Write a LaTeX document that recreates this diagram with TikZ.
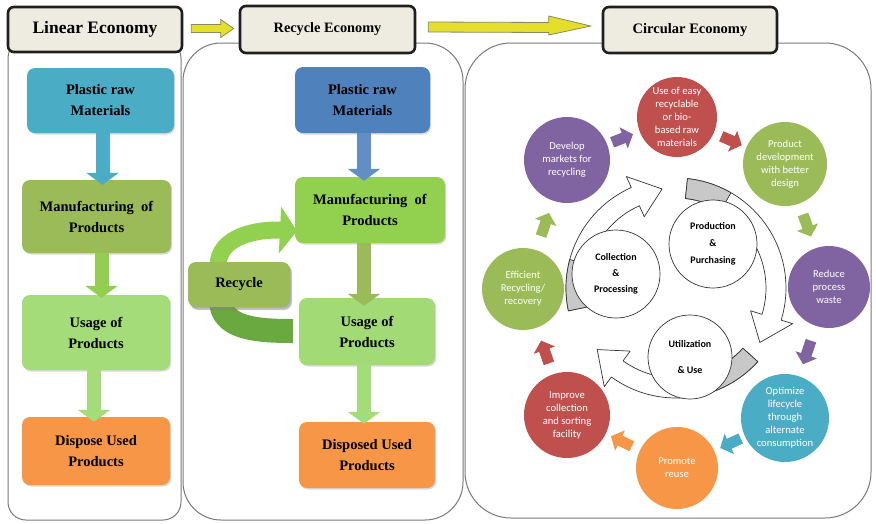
\documentclass[tikz,border=0pt]{standalone}
\usepackage{fontspec}
\setmainfont{Liberation Serif}
\newfontfamily\cfont{Carlito}
\usetikzlibrary{arrows.meta,calc,shadows}
\definecolor{titlebg}{HTML}{EEECE1}
\definecolor{yel}{HTML}{E5DE2A}
\definecolor{yeldraw}{HTML}{8A8A60}
\definecolor{panelc}{HTML}{7A7A7A}
\definecolor{teal1}{HTML}{4BACC6}
\definecolor{olive1}{HTML}{9BBB59}
\definecolor{lgreen}{HTML}{A3DC78}
\definecolor{orange1}{HTML}{F79646}
\definecolor{blue2}{HTML}{4F81BD}
\definecolor{green2}{HTML}{92D050}
\definecolor{dgreen}{HTML}{6AA840}
\definecolor{red1}{HTML}{C0504D}
\definecolor{purple1}{HTML}{8064A2}
\definecolor{cycgrey}{HTML}{C8C8C8}
\newcommand\cycarrow[3]{%
  \begin{scope}[shift={(676,288)}]
  \filldraw[cyc] plot[domain=#1:#2-16, samples=30] (\x:110) -- (#2-16:122) -- (#2:100) -- (#2-16:78) -- plot[domain=#2-16:#1, samples=30] (\x:90) -- cycle;
  \filldraw[cyc, fill=cycgrey] plot[domain=#1:#3, samples=15] (\x:110) -- plot[domain=#3:#1, samples=15] (\x:90) -- cycle;
  \end{scope}}
\begin{document}
\begin{tikzpicture}[x=1pt,y=-1pt,
  panel/.style={draw=panelc, line width=1pt},
  titlebox/.style={draw=black!88, line width=2.6pt, fill=titlebg, rounded corners=6pt, font=\bfseries, inner sep=0pt},
  yarr/.style={fill=yel, draw=yeldraw, line width=0.8pt, line join=miter},
  box/.style={rounded corners=8pt, align=center, inner sep=2pt,
    font=\fontsize{14.5}{21}\selectfont\bfseries,
    drop shadow={shadow xshift=1.2pt, shadow yshift=-1.5pt, opacity=0.3}},
  barrow/.style={line width=14pt, -{Triangle[width=32pt,length=12pt]}},
  ccirc/.style={circle, inner sep=0pt, align=center, text=white,
    font=\cfont\fontsize{10.6}{13}\selectfont},
  carrow/.style={line width=11pt, -{Triangle[width=22pt,length=10pt]}},
  cyc/.style={fill=white, draw=black!80, line width=0.7pt, line join=round},
  icirc/.style={circle, draw=black!80, line width=0.7pt, fill=white, inner sep=0pt,
    align=center, font=\cfont\bfseries\fontsize{10}{17}\selectfont}]
\useasboundingbox (0,0) rectangle (876,523);
\fill[white] (0,0) rectangle (876,523);

% panels
\draw[panel, rounded corners=18pt] (8,40) rectangle (181,520);
\draw[panel, rounded corners=38pt] (183,43) rectangle (463,520);
\draw[panel, rounded corners=46pt] (465,43) rectangle (871,518);

% titles
\node[titlebox, minimum width=174, minimum height=45, font=\bfseries\fontsize{17.5}{20}\selectfont] (t1) at (95,29.5) {Linear Economy};
\node[titlebox, minimum width=175, minimum height=47, font=\bfseries\fontsize{14.3}{16}\selectfont] (t2) at (327.5,29.5) {Recycle Economy};
\node[titlebox, minimum width=174, minimum height=46, font=\bfseries\fontsize{14.5}{16}\selectfont] (t3) at (690,30) {Circular Economy};

% yellow arrows
\draw[yarr] ($(t1.east)+(8,-5)$) -- ($(t2.west)+(-18,-5)$) -- ($(t2.west)+(-18,-10)$) -- ($(t2.west)+(-5,-1)$) -- ($(t2.west)+(-18,8)$) -- ($(t2.west)+(-18,3)$) -- ($(t1.east)+(8,3)$) -- cycle;
\draw[yarr] ($(t2.east)+(12,-7.5)$) -- ($(t3.west)+(-53,-7.5)$) -- ($(t3.west)+(-53,-14)$) -- ($(t3.west)+(-11,-4)$) -- ($(t3.west)+(-53,5)$) -- ($(t3.west)+(-53,2.5)$) -- ($(t2.east)+(12,2.5)$) -- cycle;

% ---------- Linear economy ----------
\node[box, fill=teal1, minimum width=147, minimum height=65] (p1) at (100.5,100.5) {Plastic raw\\Materials};
\node[box, fill=olive1, minimum width=149, minimum height=73] (m1) at (96.5,216.5) {Manufacturing\ \ of\\Products};
\node[box, fill=lgreen, minimum width=148, minimum height=75] (u1) at (96,332.5) {Usage of\\Products};
\node[box, fill=orange1, minimum width=148, minimum height=68] (d1) at (96,451) {Dispose Used\\Products};
\draw[barrow, teal1] ([xshift=2]p1.south) -- ($([xshift=2]p1.south |- m1.north)+(0,5)$);
\draw[barrow, green2!90!olive1] ([xshift=5]m1.south) -- ($([xshift=5]m1.south |- u1.north)+(0,3)$);
\draw[barrow, lgreen] ([xshift=-2]u1.south) -- ($([xshift=-2]u1.south |- d1.north)+(0,5)$);

% ---------- Recycle economy ----------
\draw[line width=24pt, dgreen] (221,300) .. controls (221,328) and (255,331) .. (293,331);
\draw[line width=17pt, green2, -{Triangle[width=46pt,length=17pt]}] (218,266) .. controls (218,236) and (258,229) .. (297,231);
\node[box, fill=blue2, minimum width=135, minimum height=66] (p2) at (362.5,100) {Plastic raw\\Materials};
\node[box, fill=green2, minimum width=150, minimum height=66, drop shadow={opacity=0}] (m2) at (370,210) {Manufacturing\ \ of\\Products};
\node[box, fill=lgreen!95!green2, minimum width=136, minimum height=67, drop shadow={opacity=0}] (u2) at (367,331.5) {Usage of\\Products};
\node[box, fill=orange1, minimum width=136, minimum height=66, drop shadow={opacity=0}] (d2) at (367,455) {Disposed Used\\Products};
\node[box, fill=olive1, minimum width=102, minimum height=45, drop shadow={shadow xshift=2pt, shadow yshift=-3pt, opacity=0.45}] (r2) at (239,284.5) {Recycle};
\draw[barrow, blue2!90!white] ([xshift=1.5]p2.south) -- ($([xshift=1.5]p2.south |- m2.north)+(0,4)$);
\draw[barrow, olive1] ([xshift=-6]m2.south) -- ($([xshift=-6]m2.south |- u2.north)+(0,8)$);
\draw[barrow, lgreen] ([xshift=-3]u2.south) -- ($([xshift=-3]u2.south |- d2.north)+(0,2)$);

% ---------- Circular economy ----------
\cycarrow{42}{142}{70}
\cycarrow{276}{393}{300}
\cycarrow{168}{262}{195}
\node[icirc, minimum size=88] (cp) at (713,244) {Production\\\&\\Purchasing};
\node[icirc, minimum size=88, font=\cfont\bfseries\fontsize{10}{16}\selectfont] (cc) at (616,274) {Collection\\\&\\Processing};
\node[icirc, minimum size=84, font=\cfont\bfseries\fontsize{10}{26}\selectfont] (cu) at (690,357) {Utilization\\\& Use};

\node[ccirc, fill=red1, minimum size=80] (c1) at (677,117) {Use of easy\\recyclable\\or bio-\\based raw\\materials};
\node[ccirc, fill=olive1, minimum size=84] (c2) at (785,164) {Product\\development\\with better\\design};
\node[ccirc, fill=purple1, minimum size=82] (c3) at (829,287) {Reduce\\process\\waste};
\node[ccirc, fill=teal1, minimum size=88] (c4) at (785,418) {Optimize\\lifecycle\\through\\alternate\\consumption};
\node[ccirc, fill=orange1, minimum size=82] (c5) at (677,468) {Promote\\reuse};
\node[ccirc, fill=red1, minimum size=86] (c6) at (567,415) {Improve\\collection\\and sorting\\facility};
\node[ccirc, fill=olive1, minimum size=82] (c7) at (523,289) {Efficient\\Recycling/\\recovery};
\node[ccirc, fill=purple1, minimum size=86] (c8) at (567,160) {Develop\\markets for\\recycling};

\draw[carrow, purple1] ($(c8)!0.41!(c1)$) -- ($(c8)!0.60!(c1)$);
\draw[carrow, red1] ($(c1)!0.41!(c2)$) -- ($(c1)!0.60!(c2)$);
\draw[carrow, olive1] ($(c2)!0.41!(c3)$) -- ($(c2)!0.59!(c3)$);
\draw[carrow, purple1] ($(c3)!0.41!(c4)$) -- ($(c3)!0.59!(c4)$);
\draw[carrow, teal1] ($(c4)!0.41!(c5)$) -- ($(c4)!0.60!(c5)$);
\draw[carrow, orange1] ($(c5)!0.41!(c6)$) -- ($(c5)!0.60!(c6)$);
\draw[carrow, red1] ($(c6)!0.41!(c7)$) -- ($(c6)!0.59!(c7)$);
\draw[carrow, olive1] ($(c7)!0.41!(c8)$) -- ($(c7)!0.59!(c8)$);
\end{tikzpicture}
\end{document}
